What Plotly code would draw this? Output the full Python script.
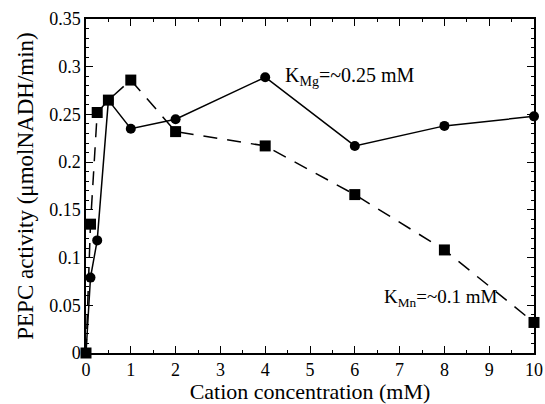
import plotly.graph_objects as go

mg_x = [0, 0.1, 0.25, 0.5, 1, 2, 4, 6, 8, 10]
mg_y = [0, 0.079, 0.118, 0.265, 0.235, 0.245, 0.289, 0.217, 0.238, 0.248]

mn_x = [0, 0.1, 0.25, 0.5, 1, 2, 4, 6, 8, 10]
mn_y = [0, 0.135, 0.252, 0.265, 0.286, 0.232, 0.217, 0.166, 0.108, 0.032]

x_ticks = list(range(0, 11))
y_ticks = [0, 0.05, 0.1, 0.15, 0.2, 0.25, 0.3, 0.35]
y_labels = ["0", "0.05", "0.1", "0.15", "0.2", "0.25", "0.3", "0.35"]

font_family = "Liberation Serif, Times New Roman, serif"

fig = go.Figure()
fig.add_trace(go.Scatter(
    x=mn_x, y=mn_y, mode="lines+markers",
    line=dict(color="black", width=1.5, dash="14px,10px"),
    marker=dict(symbol="square", size=11, color="black"),
    showlegend=False, cliponaxis=False,
))
fig.add_trace(go.Scatter(
    x=mg_x, y=mg_y, mode="lines",
    line=dict(color="black", width=1.5),
    showlegend=False, cliponaxis=False,
))
fig.add_trace(go.Scatter(
    x=mg_x[1:], y=mg_y[1:], mode="markers",
    marker=dict(symbol="circle", size=10, color="black", line=dict(width=0)),
    showlegend=False, cliponaxis=False,
))

fig.add_annotation(x=4.4, y=0.29, xref="x", yref="y", xanchor="left", yanchor="middle",
                   text="K<sub>Mg</sub>=~0.25 mM", showarrow=False,
                   font=dict(family=font_family, size=20, color="black"))
fig.add_annotation(x=6.6, y=0.058, xref="x", yref="y", xanchor="left", yanchor="middle",
                   text="K<sub>Mn</sub>=~0.1 mM", showarrow=False,
                   font=dict(family=font_family, size=19, color="black"))

axis_common = dict(
    showgrid=False, zeroline=False, showline=True, linecolor="black", linewidth=1.5,
    mirror="ticks", ticks="inside", tickcolor="black", tickwidth=1.2,
    tickfont=dict(family=font_family, size=18, color="black"),
    automargin=False,
)

fig.update_xaxes(
    range=[0, 10], tickvals=x_ticks, ticklen=7,
    minor=dict(dtick=0.5, ticks="inside", ticklen=3, tickcolor="black", tickwidth=1),
    title=dict(text="Cation concentration (mM)", font=dict(family=font_family, size=22, color="black"), standoff=6),
    **axis_common,
)
fig.update_yaxes(
    range=[0, 0.35], tickvals=y_ticks, ticktext=y_labels, ticklen=7,
    minor=dict(dtick=0.01, ticks="inside", ticklen=3, tickcolor="black", tickwidth=1),
    title=dict(text="PEPC activity (μmolNADH/min)", font=dict(family=font_family, size=23, color="black"), standoff=9),
    **axis_common,
)

fig.update_layout(
    width=545, height=404,
    margin=dict(l=86, r=11, t=19, b=51),
    plot_bgcolor="white", paper_bgcolor="white",
    font=dict(family=font_family, color="black"),
)

fig.write_html(
    "out.html",
    config={"displayModeBar": False},
    post_script="document.body.style.margin='0';document.body.style.overflow='hidden';",
)
